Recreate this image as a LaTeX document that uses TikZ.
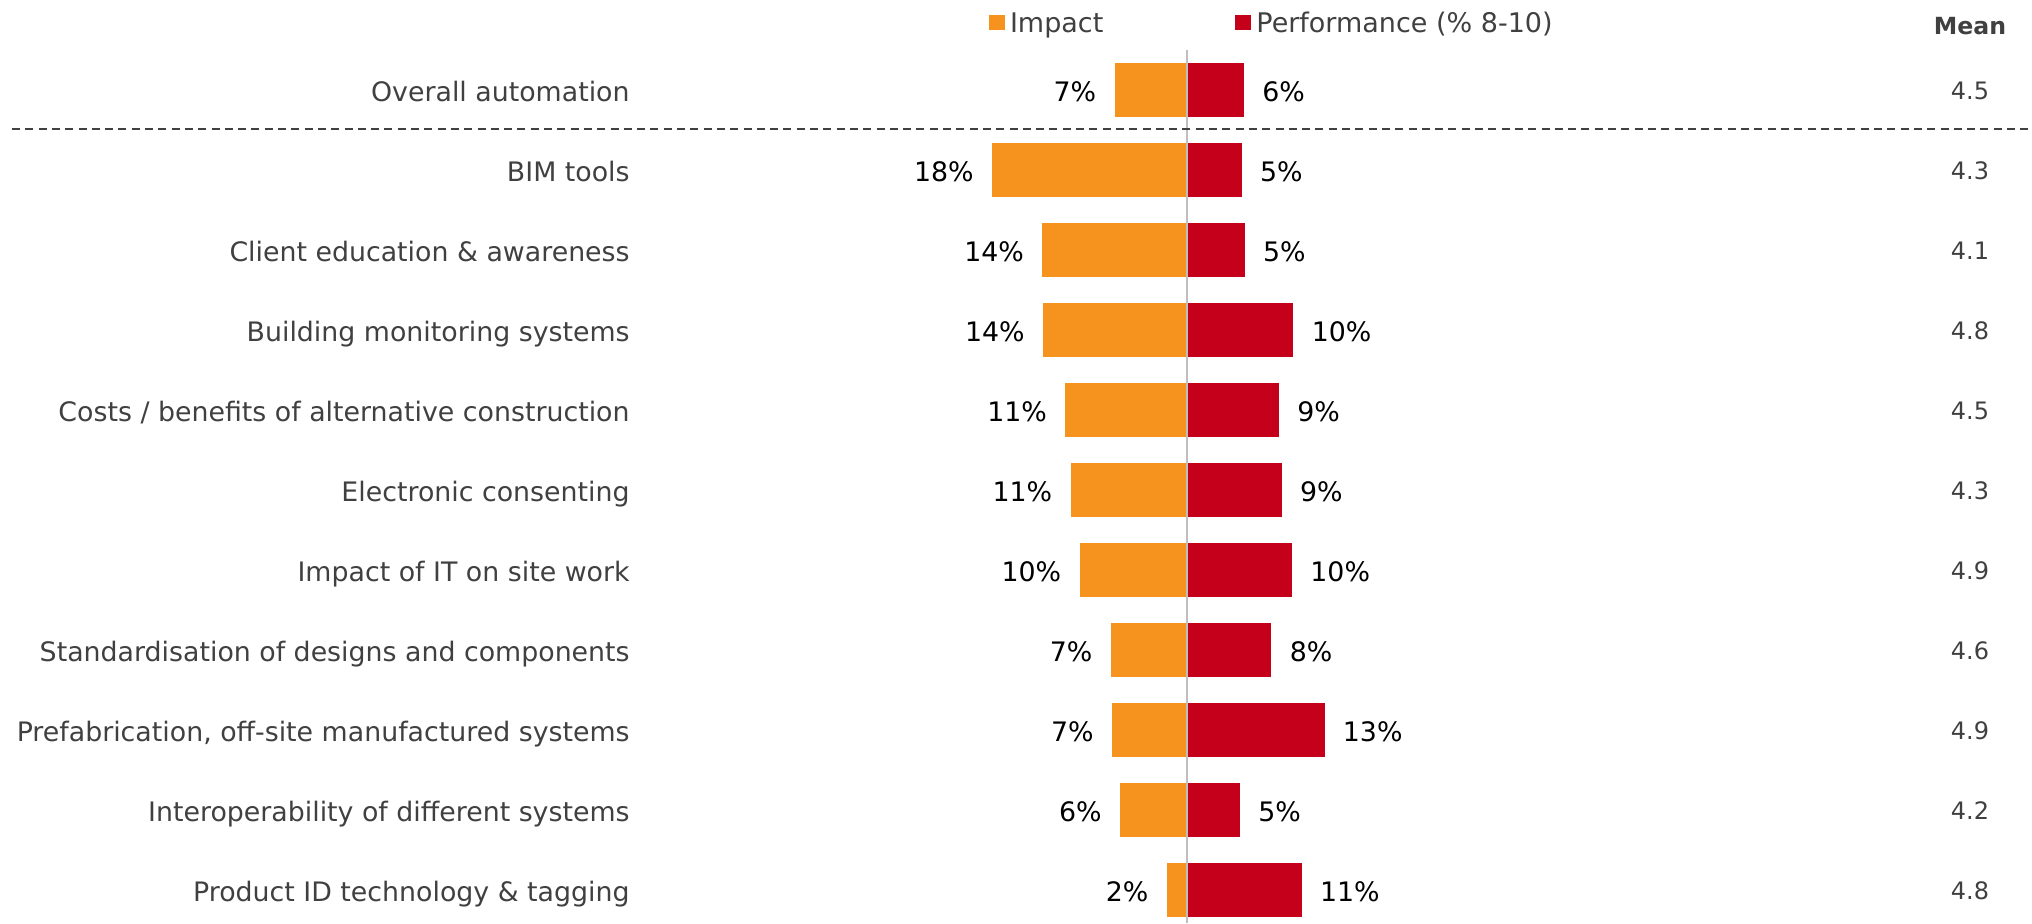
\documentclass[tikz,border=0pt]{standalone}
\usepackage{fontspec}
\setmainfont{DejaVu Sans}
\definecolor{impactorange}{HTML}{F6921E}
\definecolor{perfred}{HTML}{C5001A}
\definecolor{labelgrey}{HTML}{404040}
\definecolor{axisgrey}{HTML}{BFBFBF}
\tikzset{
  catlabel/.style={anchor=base east,inner sep=0pt,text=labelgrey,font=\fontsize{13.4}{16}\selectfont},
  pctleft/.style={anchor=base east,inner sep=0pt,font=\fontsize{13.4}{16}\selectfont},
  pctright/.style={anchor=base west,inner sep=0pt,font=\fontsize{13.4}{16}\selectfont},
  legendtext/.style={anchor=base west,inner sep=0pt,text=labelgrey,font=\fontsize{13.5}{16}\selectfont},
  meanval/.style={anchor=base,inner sep=0pt,text=labelgrey,font=\fontsize{12}{14}\selectfont},
  impactbar/.style={fill=impactorange},
  perfbar/.style={fill=perfred},
}
\begin{document}
\begin{tikzpicture}[x=0.5pt,y=-0.5pt]
  \useasboundingbox (0,0) rectangle (2032,923);
  % legend and header
  \fill[impactbar] (989,14.5) rectangle (1004.5,30);
  \node[legendtext] (legimpact) at (1009.6,32) {Impact};
  \fill[perfbar] (1235,14.5) rectangle (1250.7,30);
  \node[legendtext] (legperf) at (1256,32) {Performance (\% 8-10)};
  \node[meanval,font=\fontsize{11.8}{14}\selectfont\bfseries] (meanhead) at (1970,34) {Mean};
  % bars
  \fill[impactbar] (1114.6,63.3) rectangle (1186.7,116.7);
  \fill[perfbar] (1186.7,63.3) rectangle (1244,116.7);
  \fill[impactbar] (992,143.3) rectangle (1186.7,196.7);
  \fill[perfbar] (1186.7,143.3) rectangle (1241.7,196.7);
  \fill[impactbar] (1042.3,223.3) rectangle (1186.7,276.7);
  \fill[perfbar] (1186.7,223.3) rectangle (1244.7,276.7);
  \fill[impactbar] (1043,303.3) rectangle (1186.7,356.7);
  \fill[perfbar] (1186.7,303.3) rectangle (1293.4,356.7);
  \fill[impactbar] (1065.3,383.3) rectangle (1186.7,436.7);
  \fill[perfbar] (1186.7,383.3) rectangle (1279,436.7);
  \fill[impactbar] (1070.5,463.3) rectangle (1186.7,516.7);
  \fill[perfbar] (1186.7,463.3) rectangle (1281.7,516.7);
  \fill[impactbar] (1079.6,543.3) rectangle (1186.7,596.7);
  \fill[perfbar] (1186.7,543.3) rectangle (1292,596.7);
  \fill[impactbar] (1110.7,623.3) rectangle (1186.7,676.7);
  \fill[perfbar] (1186.7,623.3) rectangle (1271.4,676.7);
  \fill[impactbar] (1112,703.3) rectangle (1186.7,756.7);
  \fill[perfbar] (1186.7,703.3) rectangle (1324.5,756.7);
  \fill[impactbar] (1120,783.3) rectangle (1186.7,836.7);
  \fill[perfbar] (1186.7,783.3) rectangle (1240,836.7);
  \fill[impactbar] (1166.7,863.3) rectangle (1186.7,916.7);
  \fill[perfbar] (1186.7,863.3) rectangle (1301.7,916.7);
  % axis and separator
  \draw[axisgrey,line width=1pt] (1186.7,50) -- (1186.7,923);
  \draw[labelgrey,line width=1pt,dash pattern=on 4pt off 2.65pt] (12,129.3) -- (2032,129.3);
  % category labels
  \node[catlabel] (cat0) at (630,101) {Overall automation};
  \node[catlabel] (cat1) at (630,181) {BIM tools};
  \node[catlabel] (cat2) at (630,261) {Client education \& awareness};
  \node[catlabel] (cat3) at (630,341) {Building monitoring systems};
  \node[catlabel] (cat4) at (630,421) {Costs / benefits of alternative construction};
  \node[catlabel] (cat5) at (630,501) {Electronic consenting};
  \node[catlabel] (cat6) at (630,581) {Impact of IT on site work};
  \node[catlabel] (cat7) at (630,661) {Standardisation of designs and components};
  \node[catlabel] (cat8) at (630,741) {Prefabrication, off-site manufactured systems};
  \node[catlabel] (cat9) at (630,821) {Interoperability of different systems};
  \node[catlabel] (cat10) at (630,901) {Product ID technology \& tagging};
  % impact values
  \node[pctleft] (imp0) at (1096.6,101) {7\%};
  \node[pctleft] (imp1) at (974,181) {18\%};
  \node[pctleft] (imp2) at (1024.3,261) {14\%};
  \node[pctleft] (imp3) at (1025,341) {14\%};
  \node[pctleft] (imp4) at (1047.3,421) {11\%};
  \node[pctleft] (imp5) at (1052.5,501) {11\%};
  \node[pctleft] (imp6) at (1061.6,581) {10\%};
  \node[pctleft] (imp7) at (1092.7,661) {7\%};
  \node[pctleft] (imp8) at (1094,741) {7\%};
  \node[pctleft] (imp9) at (1102,821) {6\%};
  \node[pctleft] (imp10) at (1148.7,901) {2\%};
  % performance values
  \node[pctright] (perf0) at (1262,101) {6\%};
  \node[pctright] (perf1) at (1259.7,181) {5\%};
  \node[pctright] (perf2) at (1262.7,261) {5\%};
  \node[pctright] (perf3) at (1311.4,341) {10\%};
  \node[pctright] (perf4) at (1297,421) {9\%};
  \node[pctright] (perf5) at (1299.7,501) {9\%};
  \node[pctright] (perf6) at (1310,581) {10\%};
  \node[pctright] (perf7) at (1289.4,661) {8\%};
  \node[pctright] (perf8) at (1342.5,741) {13\%};
  \node[pctright] (perf9) at (1258,821) {5\%};
  \node[pctright] (perf10) at (1319.7,901) {11\%};
  % means
  \node[meanval] (mean0) at (1970,99) {4.5};
  \node[meanval] (mean1) at (1970,179) {4.3};
  \node[meanval] (mean2) at (1970,259) {4.1};
  \node[meanval] (mean3) at (1970,339) {4.8};
  \node[meanval] (mean4) at (1970,419) {4.5};
  \node[meanval] (mean5) at (1970,499) {4.3};
  \node[meanval] (mean6) at (1970,579) {4.9};
  \node[meanval] (mean7) at (1970,659) {4.6};
  \node[meanval] (mean8) at (1970,739) {4.9};
  \node[meanval] (mean9) at (1970,819) {4.2};
  \node[meanval] (mean10) at (1970,899) {4.8};
\end{tikzpicture}
\end{document}
